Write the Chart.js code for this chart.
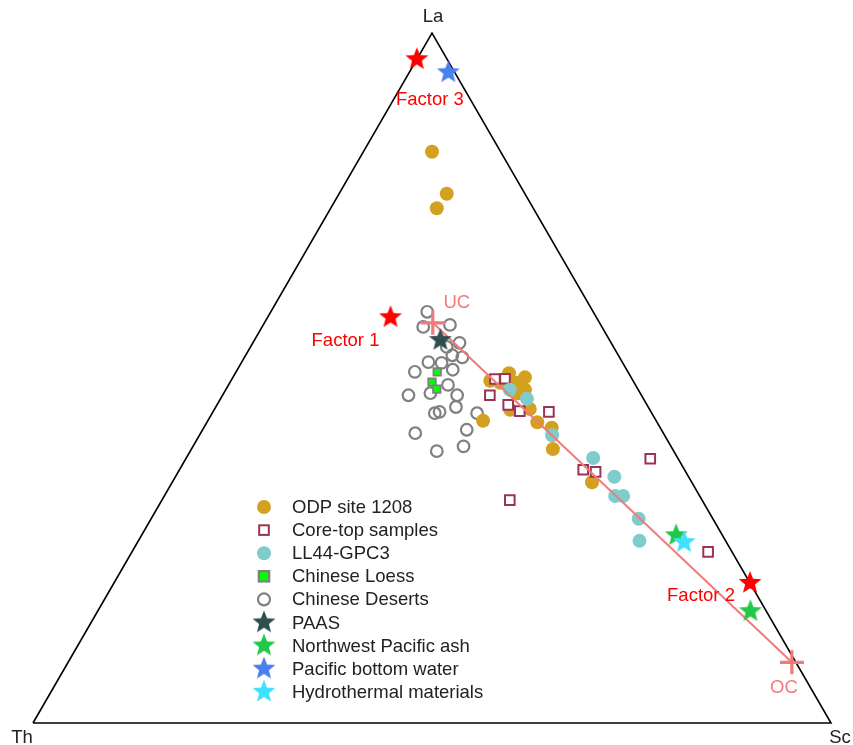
<!DOCTYPE html>
<html>
<head>
<meta charset="utf-8">
<script src="https://cdn.jsdelivr.net/npm/chart.js@4/dist/chart.umd.min.js"></script>
<style>
  html, body { margin: 0; padding: 0; background: #fff; }
  #wrap { width: 853px; height: 745px; position: relative; }
</style>
</head>
<body>
<div id="wrap"><canvas id="c"></canvas></div>
<script>
// Compositions in percent, each entry [La, Th, Sc]
const odp1208 = [
  [82.8, 8.6, 8.6], [76.7, 9.8, 13.5], [74.6, 12.1, 13.3],
  [49.6, 17.9, 32.5], [50.7, 15.0, 34.3], [50.1, 13.3, 36.6], [49.3, 16.8, 33.9],
  [49.3, 14.7, 36.0], [48.3, 14.2, 37.5], [47.8, 15.3, 36.9], [45.4, 17.5, 37.1],
  [45.5, 15.0, 39.5], [43.6, 15.0, 41.4], [42.8, 13.6, 43.6], [39.7, 15.0, 45.3],
  [43.8, 21.7, 34.5], [34.9, 12.5, 52.6]
];
const coreTop = [
  [49.9, 17.2, 33.0], [49.9, 15.9, 34.2], [47.5, 19.0, 33.5], [46.1, 17.4, 36.5],
  [45.2, 16.4, 38.4], [45.1, 12.8, 42.1], [36.7, 12.7, 50.6], [36.4, 11.3, 52.3],
  [38.3, 3.5, 58.2], [24.8, 3.0, 72.2], [32.3, 24.1, 43.6]
];
const ll44gpc3 = [
  [48.3, 16.1, 35.6], [47.0, 14.6, 38.4], [41.7, 14.1, 44.2], [38.4, 10.6, 51.0],
  [35.7, 9.3, 55.0], [32.9, 10.6, 56.5], [32.9, 9.6, 57.5], [29.6, 9.3, 61.1],
  [26.4, 10.8, 62.8]
];
const chineseLoess = [[50.9, 23.9, 25.2], [49.4, 25.3, 25.3], [48.4, 25.2, 26.4]];
const chineseDeserts = [
  [59.6, 20.8, 19.6], [57.4, 22.4, 20.2], [57.7, 18.9, 23.4], [55.1, 19.0, 25.9],
  [54.5, 20.9, 24.6], [53.3, 20.8, 25.9], [53.0, 19.7, 27.3], [52.3, 24.3, 23.4],
  [52.2, 22.7, 25.1], [51.2, 21.8, 27.0], [50.9, 26.7, 22.4], [49.0, 23.5, 27.5],
  [47.5, 29.2, 23.3], [47.8, 26.3, 25.9], [47.5, 23.1, 29.4], [45.8, 24.1, 30.1],
  [44.9, 27.2, 27.9], [45.1, 26.5, 28.4], [44.9, 21.9, 33.2], [42.5, 24.4, 33.1],
  [42.0, 31.1, 26.9], [40.1, 26.0, 33.9], [39.4, 29.7, 30.9]
];
const paas = [[55.5, 21.2, 23.3]];
const nwPacificAsh = [[27.2, 5.8, 67.0], [16.2, 2.0, 81.8]];
const pacificBottomWater = [[94.3, 0.8, 4.9]];
const hydrothermal = [[26.2, 5.3, 68.5]];
const factorNames = ['Factor 1', 'Factor 2', 'Factor 3'];
const factorComps = [[58.8, 25.8, 15.4], [20.3, 0.0, 79.7], [96.2, 3.8, 0.0]];
const crustNames = ['UC', 'OC'];
const crustComps = [[58.0, 20.9, 21.1], [8.8, 0.5, 90.7]];
const apexNames = ['La', 'Th', 'Sc'];
const apexComps = [[100, 0, 0], [0, 100, 0], [0, 0, 100]];

// Ternary -> cartesian: Th at (0,0), Sc at (1,0), La at apex
const H = Math.sqrt(3) / 2;
function toXY(c) {
  const s = c[0] + c[1] + c[2];
  const la = c[0] / s, sc = c[2] / s;
  return { x: sc + la / 2, y: la * H };
}
const pts = arr => arr.map(toXY);

function starImage(color, r) {
  const s = Math.ceil(r * 2 + 4);
  const cv = document.createElement('canvas');
  cv.width = s; cv.height = s;
  const g = cv.getContext('2d');
  g.translate(s / 2, s / 2);
  g.beginPath();
  for (let i = 0; i < 10; i++) {
    const rad = i % 2 ? r * 0.43 : r;
    const a = -Math.PI / 2 + i * Math.PI / 5;
    g.lineTo(rad * Math.cos(a), rad * Math.sin(a));
  }
  g.closePath();
  g.fillStyle = color;
  g.fill();
  return cv;
}

const C = {
  odp: '#d4a020', core: '#9a3454', ll44: '#80cccc', loess: '#00ff00', grey: '#808080',
  paas: '#2f4f4f', ash: '#22c84a', water: '#4a7ff0', hydro: '#40e0ff', factor: '#ff0000',
  crust: '#f27a7a', ink: '#222222'
};
const STAR_R = 12;
const stars = {
  paas: starImage(C.paas, STAR_R), ash: starImage(C.ash, STAR_R), water: starImage(C.water, STAR_R),
  hydro: starImage(C.hydro, STAR_R), factor: starImage(C.factor, STAR_R)
};

const datasets = [
  { label: 'Factors', data: pts(factorComps), pointStyle: stars.factor, pointRadius: STAR_R, order: 1 },
  { label: 'Hydrothermal materials', data: pts(hydrothermal), pointStyle: stars.hydro, pointRadius: STAR_R, order: 1 },
  { label: 'Pacific bottom water', data: pts(pacificBottomWater), pointStyle: stars.water, pointRadius: STAR_R, order: 2 },
  { label: 'Northwest Pacific ash', data: pts(nwPacificAsh), pointStyle: stars.ash, pointRadius: STAR_R, order: 2 },
  { label: 'PAAS', data: pts(paas), pointStyle: stars.paas, pointRadius: STAR_R, order: 2 },
  { label: 'UC-OC', data: pts(crustComps), showLine: true, borderColor: C.crust, borderWidth: 2,
    pointStyle: 'cross', pointRadius: 12, pointBorderWidth: 3.2, pointBorderColor: C.crust, order: 3 },
  { label: 'LL44-GPC3', data: pts(ll44gpc3), pointStyle: 'circle', pointRadius: 7,
    backgroundColor: C.ll44, pointBorderWidth: 0, order: 4 },
  { label: 'Core-top samples', data: pts(coreTop), pointStyle: 'rect', pointRadius: 6.8,
    backgroundColor: '#ffffff', pointBorderColor: C.core, pointBorderWidth: 2, order: 5 },
  { label: 'ODP site 1208', data: pts(odp1208), pointStyle: 'circle', pointRadius: 7,
    backgroundColor: C.odp, pointBorderWidth: 0, order: 6 },
  { label: 'Chinese Loess', data: pts(chineseLoess), pointStyle: 'rect', pointRadius: 5.3,
    backgroundColor: C.loess, pointBorderColor: C.grey, pointBorderWidth: 1.8, order: 7 },
  { label: 'Chinese Deserts', data: pts(chineseDeserts), pointStyle: 'circle', pointRadius: 5.8,
    backgroundColor: 'rgba(0,0,0,0)', pointBorderColor: C.grey, pointBorderWidth: 2.2, order: 8 },
  { label: 'Frame', data: pts([apexComps[1], apexComps[2], apexComps[0], apexComps[1]]), showLine: true,
    borderColor: '#000', borderWidth: 1.6, pointRadius: 0, order: 9 }
];

const legendRows = [
  { text: 'ODP site 1208', kind: 'circle', fill: C.odp, r: 7 },
  { text: 'Core-top samples', kind: 'square', fill: '#fff', stroke: C.core, r: 4.8, lw: 2 },
  { text: 'LL44-GPC3', kind: 'circle', fill: C.ll44, r: 7 },
  { text: 'Chinese Loess', kind: 'square', fill: C.loess, stroke: C.grey, r: 5.2, lw: 2.2 },
  { text: 'Chinese Deserts', kind: 'ring', stroke: C.grey, r: 6, lw: 2.2 },
  { text: 'PAAS', kind: 'star', img: stars.paas },
  { text: 'Northwest Pacific ash', kind: 'star', img: stars.ash },
  { text: 'Pacific bottom water', kind: 'star', img: stars.water },
  { text: 'Hydrothermal materials', kind: 'star', img: stars.hydro }
];

const FONT = '18.5px "Liberation Sans", Arial, Helvetica, sans-serif';

const annotate = {
  id: 'annotate',
  afterDraw(chart) {
    const ctx = chart.ctx, xs = chart.scales.x, ys = chart.scales.y;
    const px = c => { const p = toXY(c); return [xs.getPixelForValue(p.x), ys.getPixelForValue(p.y)]; };
    ctx.save();
    ctx.font = FONT;
    ctx.textAlign = 'center';
    ctx.textBaseline = 'middle';
    function label(text, comp, dx, dy, color) {
      const [x, y] = px(comp);
      ctx.fillStyle = color;
      ctx.fillText(text, x + dx, y + dy);
    }
    // apex names
    const apexOff = [[1, -16], [-11, 15], [9, 15]];
    apexNames.forEach((t, i) => label(t, apexComps[i], apexOff[i][0], apexOff[i][1], C.ink));
    // factor names
    const facOff = [[-45, 24], [-49, 13], [13, 41]];
    factorNames.forEach((t, i) => label(t, factorComps[i], facOff[i][0], facOff[i][1], C.factor));
    // crust end-members
    const crustOff = [[24, -20], [-8, 26]];
    crustNames.forEach((t, i) => label(t, crustComps[i], crustOff[i][0], crustOff[i][1], C.crust));

    // legend
    const lx = 264, tx = 292, ly0 = 507, step = 23.1;
    ctx.textAlign = 'left';
    legendRows.forEach((row, i) => {
      const y = ly0 + i * step;
      if (row.kind === 'circle') {
        ctx.beginPath(); ctx.arc(lx, y, row.r, 0, Math.PI * 2); ctx.fillStyle = row.fill; ctx.fill();
      } else if (row.kind === 'ring') {
        ctx.beginPath(); ctx.arc(lx, y, row.r, 0, Math.PI * 2);
        ctx.lineWidth = row.lw; ctx.strokeStyle = row.stroke; ctx.stroke();
      } else if (row.kind === 'square') {
        ctx.fillStyle = row.fill; ctx.fillRect(lx - row.r, y - row.r, row.r * 2, row.r * 2);
        ctx.lineWidth = row.lw; ctx.strokeStyle = row.stroke; ctx.strokeRect(lx - row.r, y - row.r, row.r * 2, row.r * 2);
      } else {
        ctx.drawImage(row.img, lx - row.img.width / 2, y - row.img.height / 2);
      }
      ctx.fillStyle = C.ink;
      ctx.fillText(row.text, tx, y + 1);
    });
    ctx.restore();
  }
};

new Chart(document.getElementById('c'), {
  type: 'scatter',
  data: { datasets },
  options: {
    responsive: true,
    maintainAspectRatio: false,
    animation: false,
    layout: { padding: 0, autoPadding: false },
    elements: { line: { tension: 0, borderJoinStyle: 'miter' } },
    scales: {
      x: { type: 'linear', display: false, min: -0.04135, max: 1.02757 },
      y: { type: 'linear', display: false, min: -0.02761, max: 0.9075 }
    },
    plugins: { legend: { display: false }, tooltip: { enabled: false } }
  },
  plugins: [annotate]
});
</script>
</body>
</html>
